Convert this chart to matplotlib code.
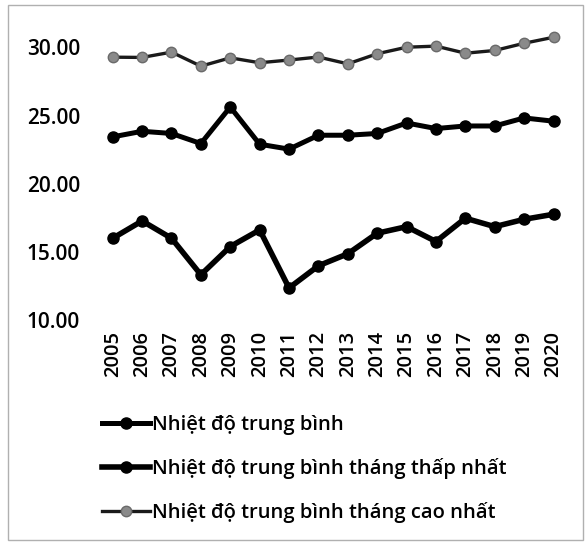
"""Nhiệt độ 2005-2020: ba đường (trung bình, tháng thấp nhất, tháng cao nhất)."""
import matplotlib
matplotlib.use("Agg")
import matplotlib.pyplot as plt
from matplotlib.patches import Rectangle

plt.rcParams["font.family"] = ["Open Sans", "DejaVu Sans"]
plt.rcParams["font.weight"] = 600

YEARS = [str(y) for y in range(2005, 2021)]

TB = [23.44, 23.85, 23.69, 22.95, 25.63, 22.90, 22.54, 23.56,
      23.56, 23.69, 24.46, 24.05, 24.24, 24.24, 24.83, 24.59]
THAP_NHAT = [16.00, 17.27, 16.00, 13.32, 15.39, 16.61, 12.35, 13.98,
             14.86, 16.37, 16.85, 15.76, 17.47, 16.85, 17.39, 17.76]
CAO_NHAT = [29.29, 29.27, 29.66, 28.63, 29.24, 28.88, 29.08, 29.30,
            28.80, 29.54, 30.02, 30.10, 29.58, 29.78, 30.31, 30.75]

LABELS = ["Nhiệt độ trung bình",
          "Nhiệt độ trung bình tháng thấp nhất",
          "Nhiệt độ trung bình tháng cao nhất"]
Y_TICKS = [10, 15, 20, 25, 30]

fig = plt.figure(figsize=(5.87, 5.47), dpi=100)
fig.patch.set_facecolor("white")
ax = fig.add_axes([0.167, 0.415, 0.801, 0.548])

x = list(range(len(YEARS)))
ax.plot(x, TB, color="black", lw=3.6, marker="o", ms=8,
        mfc="black", mec="black", label=LABELS[0])
ax.plot(x, THAP_NHAT, color="black", lw=4.0, marker="o", ms=8,
        mfc="black", mec="black", label=LABELS[1])
ax.plot(x, CAO_NHAT, color="#1a1a1a", lw=2.4, marker="o", ms=7.5,
        mfc="#8a8a8a", mec="#6a6a6a", label=LABELS[2])

ax.set_xlim(-0.5, len(YEARS) - 0.5)
ax.set_ylim(10, 32)
ax.set_xticks(x)
ax.set_xticklabels(YEARS, rotation=90, fontsize=14.5)
ax.set_yticks(Y_TICKS)
ax.set_yticklabels([f"{v:.2f}" for v in Y_TICKS], fontsize=15)
ax.tick_params(axis="x", length=0, pad=8)
ax.tick_params(axis="y", length=0, pad=13)
for s in ax.spines.values():
    s.set_visible(False)

fig.legend(loc="upper left", bbox_to_anchor=(0.174, 0.242),
           frameon=False, fontsize=14.5, handlelength=2.4,
           handletextpad=0.1, labelspacing=1.15,
           borderpad=0, borderaxespad=0)

# khung ngoài mờ
fig.patches.append(Rectangle((0.013, 0.012), 0.98, 0.978,
                             transform=fig.transFigure, fill=False,
                             edgecolor="#b0b0b0", lw=1.0))

fig.savefig("out.png", dpi=100)
